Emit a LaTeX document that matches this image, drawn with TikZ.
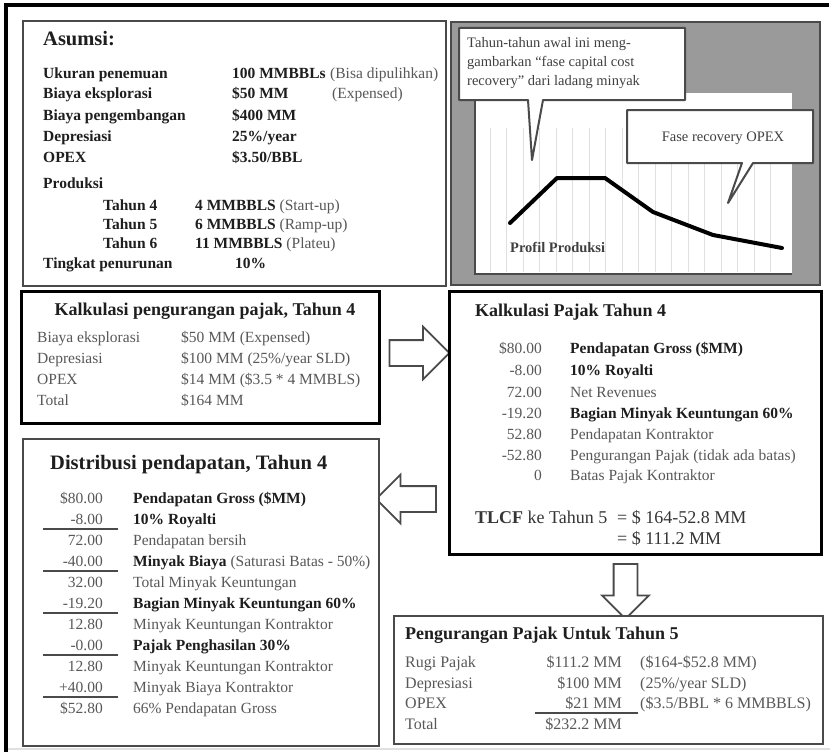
\documentclass[tikz,border=0pt]{standalone}
\usepackage{fontspec}
\setmainfont{Liberation Serif}
\usepackage{xcolor}
\usetikzlibrary{shapes.arrows}

\definecolor{txtgray}{HTML}{585858}
\definecolor{txtdark}{HTML}{1E1E1E}
\definecolor{panelgray}{HTML}{9A9A9A}
\definecolor{framegray}{HTML}{4A4A4A}

\newcommand{\boldpart}[1]{{\color{txtdark}\bfseries #1}}

\tikzset{
	panel/.style={draw=framegray, line width=2pt, fill=white, inner sep=0pt, anchor=north west},
	heavypanel/.style={panel, draw=black, line width=3.2pt},
	lbl/.style={anchor=base west, inner sep=0pt, text=txtgray, font=\fontsize{15.5}{18}\selectfont},
	lblb/.style={lbl, text=txtdark, font=\fontsize{15.5}{18}\selectfont\bfseries},
	val/.style={lbl, anchor=base east},
	head/.style={lblb, font=\fontsize{18}{21}\selectfont\bfseries},
	bighead/.style={lblb, font=\fontsize{20.5}{24}\selectfont\bfseries},
	small/.style={lbl, font=\fontsize{16}{19}\selectfont},
	smallval/.style={small, anchor=base east},
	note/.style={lbl, text=txtdark!85, font=\fontsize{14.5}{19}\selectfont},
	bigarrow/.style={single arrow, draw=framegray, line width=1.8pt, fill=white, inner xsep=0pt, inner ysep=11.5pt, single arrow head extend=13pt, minimum height=60pt},
	gridline/.style={black!12, line width=0.8pt},
	rule/.style={framegray, line width=1.8pt},
}

\begin{document}
\begin{tikzpicture}[x=1pt, y=-1pt]
	\useasboundingbox (0,0) rectangle (830,752);
	\draw[line width=4pt] (6,752) -- (6,5) -- (829,5);
	\draw[black!12, line width=1.5pt] (8,749) -- (830,749);

	\node[panel, minimum width=423pt, minimum height=265pt] (asumsi) at (22,20) {};
	\node[bighead] (asumsiT) at (43,46) {Asumsi:};
	\node[lblb] (a1) at (43,78) {Ukuran penemuan};
	\node[lblb] (a2) at (43,98) {Biaya eksplorasi};
	\node[lblb] (a3) at (43,120) {Biaya pengembangan};
	\node[lblb] (a4) at (43,141) {Depresiasi};
	\node[lblb] (a5) at (43,162) {OPEX};
	\node[lblb] (a6) at (43,188) {Produksi};
	\node[lblb] (a7) at (103,210) {Tahun 4};
	\node[lblb] (a8) at (103,229) {Tahun 5};
	\node[lblb] (a9) at (103,248) {Tahun 6};
	\node[lblb] (a10) at (43,268) {Tingkat penurunan};
	\node[lblb] (v1) at (232,78) {100 MMBBLs};
	\node[lblb] (v2) at (232,98) {\$50 MM};
	\node[lblb] (v3) at (232,120) {\$400 MM};
	\node[lblb] (v4) at (232,141) {25\%/year};
	\node[lblb] (v5) at (232,162) {\$3.50/BBL};
	\node[lbl] (v7) at (195,210) {\boldpart{4 MMBBLS} (Start-up)};
	\node[lbl] (v8) at (195,229) {\boldpart{6 MMBBLS} (Ramp-up)};
	\node[lbl] (v9) at (195,248) {\boldpart{11 MMBBLS} (Plateu)};
	\node[lblb] (v10) at (235,268) {10\%};
	\node[lbl] (n1) at (330,78) {(Bisa dipulihkan)};
	\node[lbl] (n2) at (332,98) {(Expensed)};

	\draw[framegray, fill=panelgray, line width=2pt] (451,22) rectangle (820,285);
	\fill[white] (475,93) rectangle (792,274);
	\draw[gridline] (490,128) -- (490,272) (506.5,128) -- (506.5,272) (523,128) -- (523,272)
		(539.5,128) -- (539.5,272) (556,128) -- (556,272) (572.5,128) -- (572.5,272)
		(589,128) -- (589,272) (605.5,128) -- (605.5,272) (622,128) -- (622,272)
		(638.5,128) -- (638.5,272) (655,128) -- (655,272) (671.5,128) -- (671.5,272)
		(688,128) -- (688,272) (704.5,128) -- (704.5,272) (721,128) -- (721,272)
		(737.5,128) -- (737.5,272) (754,128) -- (754,272) (770.5,128) -- (770.5,272);
	\draw[framegray, line width=2pt] (475,93) -- (475,274) -- (792,274);
	\draw[line width=4pt, line join=round, line cap=round] (510,223) -- (557,178) -- (605,178) -- (653,212) -- (713,235) -- (782,248);
	\node[lblb, text=black!75, font=\fontsize{14.5}{17}\selectfont\bfseries] (profil) at (510,252) {Profil Produksi};
	\draw[framegray, fill=white, line width=2pt, line join=round] (459,28) -- (685,28) -- (685,100) -- (543,100) -- (532,160) -- (528,100) -- (459,100) -- cycle;
	\node[note] (c1a) at (467,48) {Tahun-tahun awal ini meng-};
	\node[note] (c1b) at (467,66.5) {gambarkan “fase capital cost};
	\node[note] (c1c) at (467,85) {recovery” dari ladang minyak};
	\draw[framegray, fill=white, line width=2pt, line join=round] (627,110) -- (813,110) -- (813,163) -- (753,163) -- (728,203) -- (742,163) -- (627,163) -- cycle;
	\node[note, anchor=base] (c2) at (723,141) {Fase recovery OPEX};

	\node[heavypanel, minimum width=358pt, minimum height=132pt] (kalkpeng) at (20,290) {};
	\node[head, anchor=base] (kpT) at (205,315) {Kalkulasi pengurangan pajak, Tahun 4};
	\node[lbl] (kp1) at (37,342) {Biaya eksplorasi};
	\node[lbl] (kp2) at (37,363) {Depresiasi};
	\node[lbl] (kp3) at (37,384) {OPEX};
	\node[lbl] (kp4) at (37,405) {Total};
	\node[lbl] (kv1) at (181,342) {\$50 MM (Expensed)};
	\node[lbl] (kv2) at (181,363) {\$100 MM (25\%/year SLD)};
	\node[lbl] (kv3) at (181,384) {\$14 MM (\$3.5 * 4 MMBLS)};
	\node[lbl] (kv4) at (181,405) {\$164 MM};

	\node[bigarrow, inner ysep=12pt, single arrow head extend=13.5pt] (arrowR) at (413,353) {};

	\node[heavypanel, line width=3pt, minimum width=372pt, minimum height=263pt] (kalkpajak) at (448,290) {};
	\node[head] (kjT) at (475,316) {Kalkulasi Pajak Tahun 4};
	\node[val] (kj1) at (542,353) {\$80.00};
	\node[val] (kj2) at (542,375) {-8.00};
	\node[val] (kj3) at (542,397) {72.00};
	\node[val] (kj4) at (542,418) {-19.20};
	\node[val] (kj5) at (542,439) {52.80};
	\node[val] (kj6) at (542,460) {-52.80};
	\node[val] (kj7) at (542,480) {0};
	\node[lblb] (kl1) at (570,353) {Pendapatan Gross (\$MM)};
	\node[lblb] (kl2) at (570,375) {10\% Royalti};
	\node[lbl] (kl3) at (570,397) {Net Revenues};
	\node[lblb] (kl4) at (570,418) {Bagian Minyak Keuntungan 60\%};
	\node[lbl] (kl5) at (570,439) {Pendapatan Kontraktor};
	\node[lbl] (kl6) at (570,460) {Pengurangan Pajak (tidak ada batas)};
	\node[lbl] (kl7) at (570,480) {Batas Pajak Kontraktor};
	\node[lbl, text=txtdark!90, font=\fontsize{18}{21}\selectfont] (tlcf) at (475,523) {\textbf{TLCF} ke Tahun 5};
	\node[lbl, text=txtdark!90, font=\fontsize{18}{21}\selectfont] (tlcf1) at (617,523) {= \$ 164-52.8 MM};
	\node[lbl, text=txtdark!90, font=\fontsize{18}{21}\selectfont] (tlcf2) at (617,544) {= \$ 111.2 MM};

	\node[bigarrow, shape border rotate=270, minimum height=55pt, inner xsep=11pt, inner ysep=0pt, single arrow head extend=11.5pt] (arrowD) at (625.5,585.5) {};

	\node[panel, minimum width=429pt, minimum height=128pt] (tahun5) at (393,615) {};
	\node[head] (t5T) at (405,639) {Pengurangan Pajak Untuk Tahun 5};
	\node[small] (t1) at (405,667) {Rugi Pajak};
	\node[small] (t2) at (405,688) {Depresiasi};
	\node[small] (t3) at (405,708) {OPEX};
	\node[small] (t4) at (405,729) {Total};
	\node[smallval] (tv1) at (622,667) {\$111.2 MM};
	\node[smallval] (tv2) at (622,688) {\$100 MM};
	\node[smallval] (tv3) at (622,708) {\$21 MM};
	\node[smallval] (tv4) at (622,729) {\$232.2 MM};
	\node[small] (tc1) at (640,667) {(\$164-\$52.8 MM)};
	\node[small] (tc2) at (640,688) {(25\%/year SLD)};
	\node[small] (tc3) at (640,708) {(\$3.5/BBL * 6 MMBBLS)};
	\draw[rule] (535,713) -- (638,713);

	\node[bigarrow, shape border rotate=180, inner ysep=12pt, single arrow head extend=11.5pt] (arrowL) at (412.5,499) {};

	\node[panel, minimum width=356pt, minimum height=307pt] (distrib) at (22,438) {};
	\node[bighead] (dT) at (50,469) {Distribusi pendapatan, Tahun 4};
	\node[val] (d1) at (103,503) {\$80.00};
	\node[val] (d2) at (103,524) {-8.00};
	\node[val] (d3) at (103,545) {72.00};
	\node[val] (d4) at (103,566) {-40.00};
	\node[val] (d5) at (103,587) {32.00};
	\node[val] (d6) at (103,608) {-19.20};
	\node[val] (d7) at (103,629) {12.80};
	\node[val] (d8) at (103,650) {-0.00};
	\node[val] (d9) at (103,671) {12.80};
	\node[val] (d10) at (103,692) {+40.00};
	\node[val] (d11) at (103,713) {\$52.80};
	\node[lblb] (dl1) at (133,503) {Pendapatan Gross (\$MM)};
	\node[lblb] (dl2) at (133,524) {10\% Royalti};
	\node[lbl] (dl3) at (133,545) {Pendapatan bersih};
	\node[lbl] (dl4) at (133,566) {\boldpart{Minyak Biaya} (Saturasi Batas - 50\%)};
	\node[lbl] (dl5) at (133,587) {Total Minyak Keuntungan};
	\node[lblb] (dl6) at (133,608) {Bagian Minyak Keuntungan 60\%};
	\node[lbl] (dl7) at (133,629) {Minyak Keuntungan Kontraktor};
	\node[lblb] (dl8) at (133,650) {Pajak Penghasilan 30\%};
	\node[lbl] (dl9) at (133,671) {Minyak Keuntungan Kontraktor};
	\node[lbl] (dl10) at (133,692) {Minyak Biaya Kontraktor};
	\node[lbl] (dl11) at (133,713) {66\% Pendapatan Gross};
	\draw[rule] (43,529) -- (118,529);
	\draw[rule] (43,571) -- (118,571);
	\draw[rule] (43,613) -- (118,613);
	\draw[rule] (43,655) -- (118,655);
	\draw[rule] (43,697) -- (118,697);
\end{tikzpicture}
\end{document}
